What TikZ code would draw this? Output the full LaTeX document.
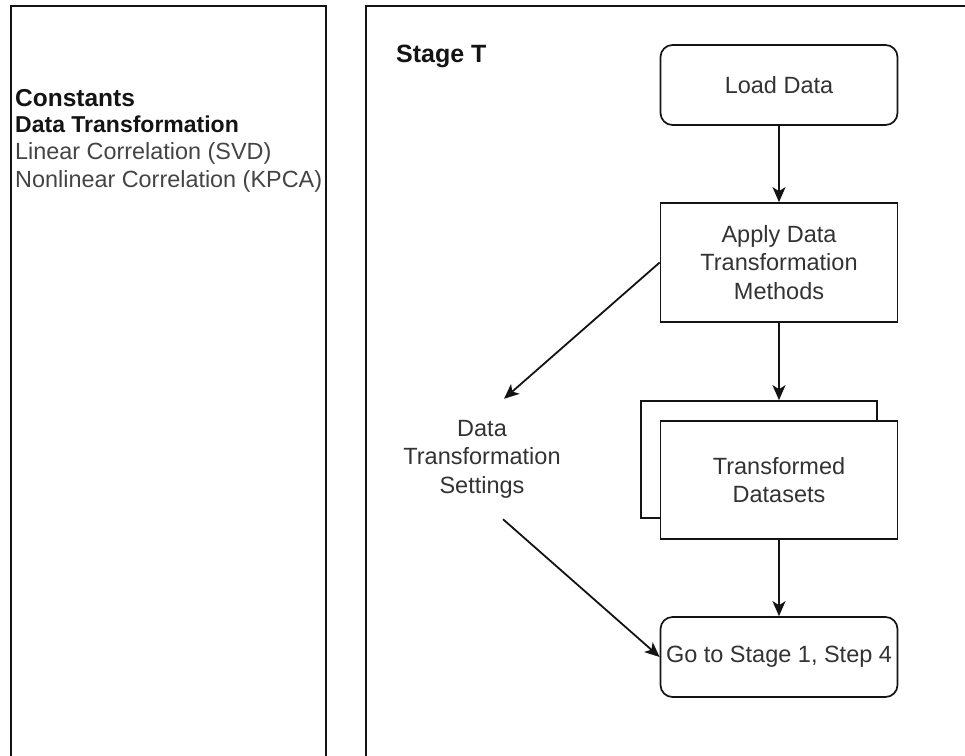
\documentclass[tikz,border=0pt]{standalone}
\usepackage{fontspec}
\setmainfont{Liberation Sans}
\usetikzlibrary{arrows.meta}
\definecolor{ink}{HTML}{141414}
\definecolor{txt}{HTML}{333333}
\definecolor{softtxt}{HTML}{444444}

\begin{document}
\begin{tikzpicture}[x=1pt,y=-1pt,
  panel/.style={draw=ink, line width=1.8pt, anchor=north west, inner sep=0pt},
  boxfont/.style={font=\fontsize{23.5}{28.5}\selectfont, text=txt},
  stepbox/.style={boxfont, draw=ink, line width=1.7pt, fill=white,
    minimum width=237pt, align=center, inner sep=0pt},
  roundbox/.style={stepbox, rounded corners=12pt},
  flow/.style={draw=ink, line width=1.8pt,
    -{Stealth[length=15pt, width=13pt, inset=4pt]}},
  listtext/.style={anchor=base west, inner sep=0pt}
]
\useasboundingbox (0,0) rectangle (965,755);

% outer panels (their lower edges run off the page)
\node[panel, minimum width=315pt, minimum height=750.5pt] (constpanel) at (10,5) {};
\node[panel, minimum width=620pt, minimum height=750.5pt] (stagepanel) at (365,5) {};

% constants listed in the left panel
\node[listtext, font=\bfseries\fontsize{24.5}{28}\selectfont, text=ink] (constants) at (15,106) {Constants};
\node[listtext, font=\bfseries\fontsize{23}{28}\selectfont, text=ink] (dtlabel) at (15,132) {Data Transformation};
\node[listtext, font=\fontsize{23.4}{28}\selectfont, text=softtxt] (svd) at (15,159) {Linear Correlation (SVD)};
\node[listtext, font=\fontsize{23.4}{28}\selectfont, text=softtxt] (kpca) at (15,187) {Nonlinear Correlation (KPCA)};

% stage title
\node[listtext, font=\bfseries\fontsize{25}{28}\selectfont, text=ink] (title) at (396,62) {Stage T};

% flow steps
\node[roundbox, minimum height=80pt] (load) at (779,85) {Load Data};
\node[stepbox, minimum height=119pt] (apply) at (779,262.5) {Apply Data\\Transformation\\Methods};
\node[stepbox, minimum width=236pt, minimum height=117pt] (stackback) at (759,459.5) {};
\node[stepbox, minimum height=118pt] (datasets) at (779,480) {Transformed\\Datasets};
\node[roundbox, minimum height=80pt] (goto) at (779,657) {Go to Stage 1, Step 4};

% side output
\node[boxfont, align=center, minimum height=120pt, inner sep=0pt] (settings) at (482,459) {Data\\Transformation\\Settings};

% connectors
\draw[flow] (load.south) -- (apply.north);
\draw[flow] (apply.south) -- (apply.south |- stackback.north);
\draw[flow] (datasets.south) -- (goto.north);
\draw[flow] (apply.west) -- ([xshift=22pt]settings.north);
\draw[flow] ([xshift=21pt]settings.south) -- (goto.west);
\end{tikzpicture}
\end{document}
